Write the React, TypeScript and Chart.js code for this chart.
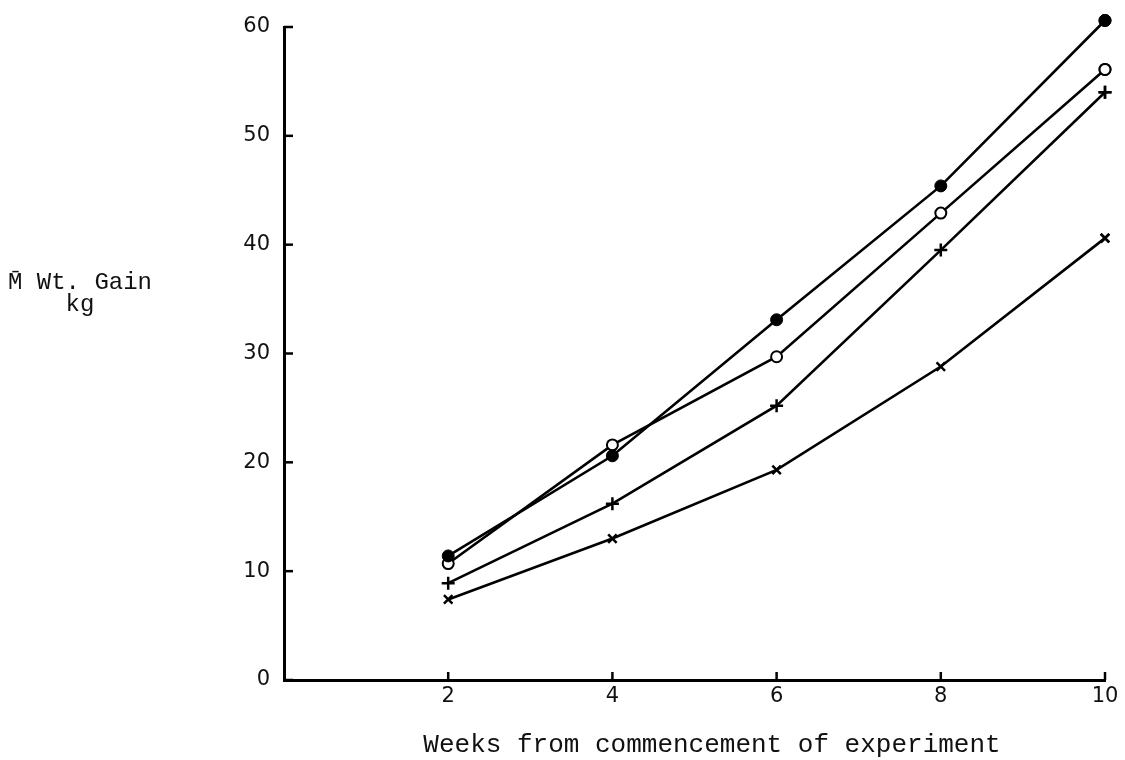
import React, { useEffect, useRef } from "react";
import { Chart, registerables } from "chart.js";

Chart.register(...registerables);

const weeks = [2, 4, 6, 8, 10];
const seriesFilled = [11.4, 20.6, 33.1, 45.4, 60.6];
const seriesOpen = [10.7, 21.6, 29.7, 42.9, 56.1];
const seriesPlus = [8.9, 16.2, 25.2, 39.5, 54.0];
const seriesCross = [7.4, 13.0, 19.3, 28.8, 40.6];
const yTicks = [0, 10, 20, 30, 40, 50, 60];
const xTickLabels = ["2", "4", "6", "8", "10"];
const xTitle = "Weeks from commencement of experiment";
const yTitleLines = ["M\u0304 Wt. Gain", "kg"];

const toPts = (vals: number[]) => weeks.map((w, i) => ({ x: w, y: vals[i] }));

const inwardTicks = {
  id: "inwardTicks",
  afterDatasetsDraw(chart: any) {
    // draw points that lie just outside the chart area (e.g. value above 60)
    const { ctx, chartArea } = chart;
    chart.data.datasets.forEach((_d: any, di: number) => {
      const meta = chart.getDatasetMeta(di);
      meta.data.forEach((el: any) => {
        if (el.y < chartArea.top + 3 || el.x > chartArea.right - 3) {
          el.draw(ctx);
        }
      });
    });
  },
  afterDraw(chart: any) {
    const { ctx, chartArea, scales } = chart;
    ctx.save();
    ctx.strokeStyle = "#000";
    ctx.lineWidth = 2.5;
    yTicks.forEach((v) => {
      const y = scales.y.getPixelForValue(v);
      ctx.beginPath();
      ctx.moveTo(chartArea.left, y);
      ctx.lineTo(chartArea.left + 9, y);
      ctx.stroke();
    });
    weeks.forEach((w) => {
      const x = scales.x.getPixelForValue(w);
      ctx.beginPath();
      ctx.moveTo(x, chartArea.bottom);
      ctx.lineTo(x, chartArea.bottom - 8);
      ctx.stroke();
    });
    ctx.fillStyle = "#111";
    ctx.textBaseline = "middle";
    // y-axis title, horizontal, at left
    ctx.font = "24px 'Liberation Mono', monospace";
    ctx.textAlign = "left";
    ctx.fillText(yTitleLines[0], 8, 283);
    ctx.textAlign = "center";
    ctx.fillText(yTitleLines[1], 80, 305);
    // x-axis title
    ctx.font = "26px 'Liberation Mono', monospace";
    ctx.fillText(xTitle, 712, 745);
    ctx.restore();
  },
};

export default function App() {
  const ref = useRef<HTMLCanvasElement | null>(null);
  useEffect(() => {
    if (!ref.current) return;
    const common = {
      borderColor: "#000",
      borderWidth: 2.6,
      pointBorderColor: "#000",
      showLine: true,
      tension: 0,
      clip: false,
    };
    const chart = new Chart(ref.current, {
      type: "scatter",
      data: {
        datasets: [
          { ...common, label: "filled", data: toPts(seriesFilled), pointStyle: "circle", pointRadius: 6, pointBackgroundColor: "#000", pointBorderWidth: 1 },
          { ...common, label: "open", data: toPts(seriesOpen), pointStyle: "circle", pointRadius: 5.5, pointBackgroundColor: "#fff", pointBorderWidth: 2 },
          { ...common, label: "plus", data: toPts(seriesPlus), pointStyle: "cross", pointRadius: 6.5, pointBackgroundColor: "#000", pointBorderWidth: 2.5 },
          { ...common, label: "cross", data: toPts(seriesCross), pointStyle: "crossRot", pointRadius: 6, pointBackgroundColor: "#000", pointBorderWidth: 2.5 },
        ],
      },
      options: {
        animation: false,
        responsive: false,
        maintainAspectRatio: false,
        layout: { padding: { left: 224, right: 20, top: 27, bottom: 0 } },
        plugins: { legend: { display: false }, tooltip: { enabled: false } },
        scales: {
          x: {
            type: "linear",
            min: 0,
            max: 10,
            grid: { display: false, drawTicks: false },
            border: { display: true, color: "#000", width: 3 },
            afterBuildTicks: (s: any) => {
              s.ticks = weeks.map((w) => ({ value: w }));
            },
            ticks: {
              color: "#111",
              font: { family: "'DejaVu Sans'", size: 21 },
              padding: 4,
              callback: (_v: any, i: number) => xTickLabels[i],
            },
            afterFit: (s: any) => {
              s.height = 80;
            },
          },
          y: {
            type: "linear",
            min: 0,
            max: 60,
            grid: { display: false, drawTicks: false },
            border: { display: true, color: "#000", width: 3 },
            afterBuildTicks: (s: any) => {
              s.ticks = yTicks.map((v) => ({ value: v }));
            },
            ticks: {
              color: "#111",
              font: { family: "'DejaVu Sans'", size: 21 },
              padding: 14,
            },
            afterFit: (s: any) => {
              s.width = 60;
            },
          },
        },
      },
      plugins: [inwardTicks],
    } as any);
    return () => chart.destroy();
  }, []);
  return (
    <div style={{ position: "fixed", left: 0, top: 0, width: 1125, height: 760, background: "#fff" }}>
      <canvas ref={ref} width={1125} height={760} style={{ width: 1125, height: 760 }} />
    </div>
  );
}
